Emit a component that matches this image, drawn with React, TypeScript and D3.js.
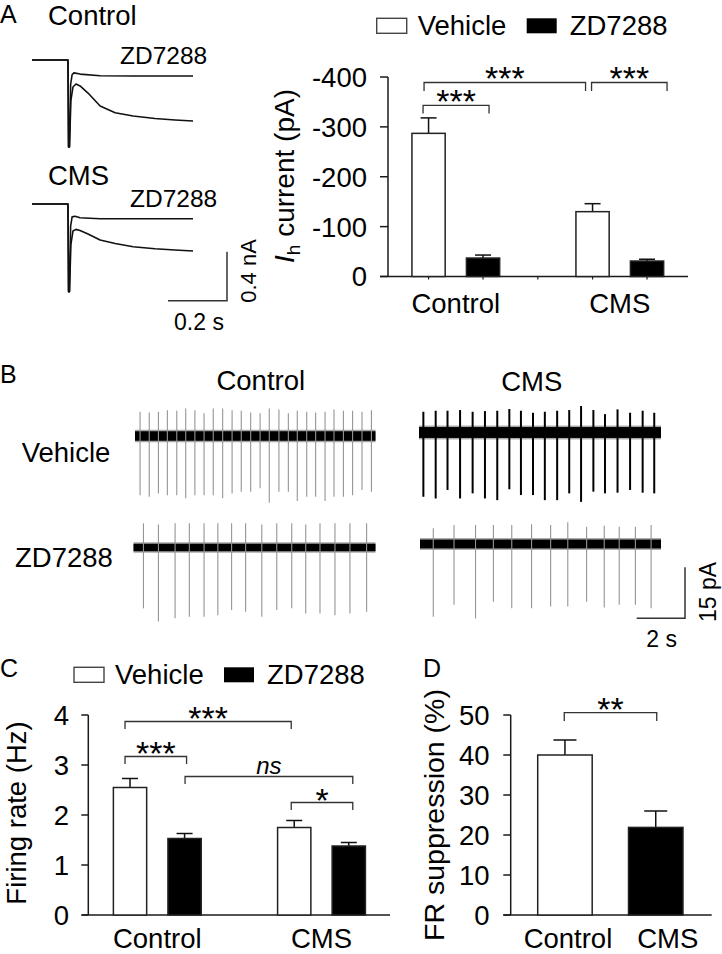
import React from 'react';
import * as d3 from 'd3';

const FONT = '"Liberation Sans", Arial, Helvetica, sans-serif';

// ---------- Panel A: example current traces (time s, current nA) ----------
const traceCtrlVehicle: [number, number][] = [
  [0, 0], [0.122, 0], [0.124, -0.71], [0.127, -0.71], [0.132, -0.33], [0.139, -0.22],
  [0.149, -0.196], [0.163, -0.212], [0.19, -0.27], [0.231, -0.376], [0.282, -0.43],
  [0.343, -0.457], [0.417, -0.478], [0.485, -0.49], [0.546, -0.498],
];
const traceCtrlZD: [number, number][] = [
  [0, 0], [0.122, 0], [0.124, -0.71], [0.127, -0.71], [0.131, -0.2], [0.136, -0.12],
  [0.142, -0.105], [0.163, -0.115], [0.231, -0.128], [0.343, -0.13], [0.546, -0.13],
];
const traceCmsVehicle: [number, number][] = [
  [0, 0], [0.122, 0], [0.124, -0.716], [0.127, -0.716], [0.132, -0.33], [0.139, -0.22],
  [0.149, -0.207], [0.163, -0.216], [0.19, -0.245], [0.231, -0.294], [0.282, -0.322],
  [0.343, -0.349], [0.417, -0.365], [0.485, -0.376], [0.546, -0.384],
];
const traceCmsZD: [number, number][] = [
  [0, 0], [0.122, 0], [0.124, -0.716], [0.127, -0.716], [0.131, -0.18], [0.136, -0.105],
  [0.146, -0.1], [0.163, -0.112], [0.231, -0.12], [0.343, -0.12], [0.546, -0.12],
];

// ---------- Panel A: Ih current bars ----------
const groups = ['Control', 'CMS'];
const seriesNames = ['Vehicle', 'ZD7288'];
const ihVehicle = [-287, -130];
const ihVehicleSem = [31, 16];
const ihZD = [-37, -31];
const ihZDSem = [6, 3.6];
const ihTicks = [0, -100, -200, -300, -400];

// ---------- Panel B: spike trains (time s, amplitude pA) ----------
const ctrlVehSpikeT = [0.21, 0.59, 0.97, 1.34, 1.73, 2.10, 2.48, 2.86, 3.24, 3.63, 4.02, 4.40, 4.79, 5.18, 5.56, 5.96, 6.35, 6.72, 7.11, 7.48, 7.87, 8.24, 8.63, 9.01, 9.40, 9.79];
const ctrlVehSpikeUp = [7.1, 6.9, 7.1, 7.6, 7.4, 8.1, 7.6, 6.7, 8.1, 8.1, 7.6, 7.4, 6.9, 6.7, 8.1, 7.8, 6.7, 7.4, 7.1, 6.9, 7.1, 7.8, 7.4, 7.4, 7.1, 7.6];
const ctrlVehSpikeDown = [17.4, 17.9, 16.9, 17.4, 17.4, 18.3, 17.4, 17.4, 17.4, 18.3, 16.9, 16.4, 16.4, 15.4, 19.6, 16.4, 16.4, 19.1, 17.9, 17.9, 19.1, 17.9, 17.9, 17.4, 15.9, 16.4];

const ctrlZDSpikeT = [0.35, 0.97, 1.66, 2.25, 2.86, 3.43, 4.00, 4.58, 5.25, 5.87, 6.49, 7.07, 7.66, 8.28, 8.90, 9.59];
const ctrlZDSpikeUp = [7.1, 6.8, 7.1, 7.1, 7.1, 7.1, 7.1, 7.1, 6.8, 7.1, 7.1, 6.8, 7.1, 7.1, 7.1, 7.1];
const ctrlZDSpikeDown = [17.9, 21.8, 20.8, 20.4, 20.4, 19.9, 18.4, 18.9, 20.4, 18.4, 17.9, 19.4, 19.4, 19.9, 19.4, 18.9];

const cmsVehSpikeT = [0.16, 0.67, 1.16, 1.68, 2.20, 2.71, 3.22, 3.72, 4.20, 4.70, 5.19, 5.70, 6.20, 6.69, 7.20, 7.68, 8.20, 8.72, 9.24, 9.72];
const cmsVehSpikeUp = [6.1, 6.4, 6.4, 6.6, 6.1, 6.3, 6.4, 6.9, 6.4, 5.8, 6.1, 6.4, 6.6, 7.8, 6.6, 5.4, 6.8, 5.8, 6.4, 5.8];
const cmsVehSpikeDown = [18.9, 19.4, 16.9, 19.4, 17.9, 19.4, 19.9, 16.7, 18.4, 18.4, 19.9, 19.9, 17.9, 20.4, 17.4, 17.9, 17.7, 16.9, 17.7, 17.9];

const cmsZDSpikeT = [0.57, 1.43, 2.32, 3.06, 3.82, 4.64, 5.43, 6.14, 6.92, 7.65, 8.27, 8.94, 9.59];
const cmsZDSpikeUp = [4.6, 5.6, 5.6, 5.6, 5.6, 5.8, 5.6, 6.4, 5.1, 5.4, 5.1, 5.1, 5.6];
const cmsZDSpikeDown = [21.4, 17.9, 21.9, 17.0, 18.9, 18.9, 18.4, 18.4, 17.0, 18.7, 17.9, 17.9, 18.9];

const noiseHalf = [1.4, 1.1, 1.6, 1.3]; // pA: ctrlVeh, ctrlZD, cmsVeh, cmsZD

// ---------- Panel C: firing rate ----------
const frVehicle = [2.55, 1.75];
const frVehicleSem = [0.18, 0.14];
const frZD = [1.53, 1.38];
const frZDSem = [0.10, 0.07];
const frTicks = [0, 1, 2, 3, 4];

// ---------- Panel D: FR suppression ----------
const supCategories = ['Control', 'CMS'];
const supValues = [40.0, 21.9];
const supSem = [3.75, 4.1];
const supTicks = [0, 10, 20, 30, 40, 50];

const AX = '#1a1a1a';
const FS = 27.5;
const BOTTOM_BASE = 948;

function Trace({ data, x, y }: any) {
  const line = d3.line<[number, number]>().x(d => x(d[0])).y(d => y(d[1]));
  return <path d={line(data) || ''} fill="none" stroke="#111" strokeWidth={1.6} strokeLinejoin="round" />;
}

function SpikeRow({ t, up, down, noise, x, y, x0, x1, color, width }: any) {
  return (
    <g>
      <rect x={x0} y={y(noise) - 1.5} width={x1 - x0} height={y(-noise) - y(noise) + 3} fill="#000" opacity={0.35} />
      <rect x={x0} y={y(noise)} width={x1 - x0} height={y(-noise) - y(noise)} fill="#000" />
      {t.map((tt: number, i: number) => (
        <line key={i} x1={x(tt)} x2={x(tt)} y1={y(up[i])} y2={y(-down[i])} stroke={color} strokeWidth={width} />
      ))}
    </g>
  );
}

function Bracket({ xa, xb, yTop, leg, label, italic, fontSize, dyText }: any) {
  return (
    <g>
      <path d={`M${xa},${yTop + leg}V${yTop}H${xb}V${yTop + leg}`} fill="none" stroke="#333" strokeWidth={1.3} />
      <text x={(xa + xb) / 2} y={yTop + dyText} textAnchor="middle" fontSize={fontSize}
        fontStyle={italic ? 'italic' : 'normal'} fontFamily={FONT} fill="#000">{label}</text>
    </g>
  );
}

function YAxis({ scale, ticks, x, tickLen, labelX, fmt }: any) {
  return (
    <g>
      <line x1={x} x2={x} y1={scale(ticks[ticks.length - 1])} y2={scale(ticks[0])} stroke={AX} strokeWidth={1.5} />
      {ticks.map((t: number) => (
        <g key={t}>
          <line x1={x - tickLen} x2={x} y1={scale(t)} y2={scale(t)} stroke={AX} strokeWidth={1.5} />
          <text x={labelX} y={scale(t)} dy="0.36em" textAnchor="end" fontSize={FS} fontFamily={FONT}>{fmt ? fmt(t) : t}</text>
        </g>
      ))}
    </g>
  );
}

function GroupedBars({ gScale, sScale, y, vehicle, vehicleSem, zd, zdSem, cap }: any) {
  const items: any[] = [];
  groups.forEach((g, gi) => {
    seriesNames.forEach((s, si) => {
      const v = si === 0 ? vehicle[gi] : zd[gi];
      const e = si === 0 ? vehicleSem[gi] : zdSem[gi];
      items.push({ g, s, v, e, fill: si === 0 ? '#fff' : '#000' });
    });
  });
  return (
    <g>
      {items.map((d, i) => {
        const bx = gScale(d.g) + sScale(d.s);
        const bw = sScale.bandwidth();
        const cx = bx + bw / 2;
        const top = y(d.v);
        const errEnd = y(d.v + Math.sign(d.v) * d.e);
        return (
          <g key={i}>
            <line x1={cx} x2={cx} y1={top} y2={errEnd} stroke="#111" strokeWidth={1.5} />
            <line x1={cx - cap / 2} x2={cx + cap / 2} y1={errEnd} y2={errEnd} stroke="#111" strokeWidth={1.5} />
            <rect x={bx} y={Math.min(top, y(0))} width={bw} height={Math.abs(y(0) - top)} fill={d.fill} stroke="#222" strokeWidth={1.5} />
          </g>
        );
      })}
    </g>
  );
}

function Legend({ x, y }: any) {
  return (
    <g fontFamily={FONT} fontSize={FS}>
      <rect x={x} y={y} width={30} height={15} fill="#fff" stroke="#444" strokeWidth={1.4} />
      <text x={x + 41} y={y + 17}>Vehicle</text>
      <rect x={x + 150} y={y} width={30} height={15} fill="#000" />
      <text x={x + 193} y={y + 17}>ZD7288</text>
    </g>
  );
}

export default function App() {
  // Panel A traces
  const tx = d3.scaleLinear().domain([0, 0.546]).range([32, 193]);
  const tyCtrl = d3.scaleLinear().domain([0, -0.8]).range([60, 158]);
  const tyCms = d3.scaleLinear().domain([0, -0.8]).range([204, 302]);
  const pxPerNA = tyCtrl(-1) - tyCtrl(0);
  const pxPerS = tx(1) - tx(0);

  // Panel A bars
  const yA = d3.scaleLinear().domain([0, -400]).range([276.5, 77]);
  const gA = d3.scaleBand().domain(groups).range([373.8, 701.8]);
  const sA = d3.scaleBand().domain(seriesNames).range([0, gA.bandwidth()]).paddingInner(0.39).paddingOuter(0.7);
  const barC = (g: string, s: string) => (gA(g) as number) + (sA(s) as number) + sA.bandwidth() / 2;
  const xTicksA = [barC('Control', 'Vehicle'), barC('Control', 'ZD7288'),
    ((gA('Control') as number) + gA.bandwidth()), barC('CMS', 'Vehicle'), barC('CMS', 'ZD7288')];

  // Panel B
  const bxCtrl = d3.scaleLinear().domain([0, 10]).range([135, 376.5]);
  const bxCms = d3.scaleLinear().domain([0, 10]).range([419.5, 661]);
  const rowY = (base: number) => d3.scaleLinear().domain([-20, 10]).range([base + 68, base - 34]);
  const yCV = rowY(436), yCZ = rowY(547.5), yMV = rowY(432.5), yMZ = rowY(544);
  const pxPerPA = yCV(0) - yCV(1);
  const pxPerSB = bxCtrl(1) - bxCtrl(0);

  // Panel C
  const yC = d3.scaleLinear().domain([0, 4]).range([915, 715]);
  const gC = d3.scaleBand().domain(groups).range([75.2, 403.6]);
  const sC = d3.scaleBand().domain(seriesNames).range([0, gC.bandwidth()]).paddingInner(0.39).paddingOuter(0.7);
  const barCC = (g: string, s: string) => (gC(g) as number) + (sC(s) as number) + sC.bandwidth() / 2;

  // Panel D
  const yD = d3.scaleLinear().domain([0, 50]).range([915, 715]);
  const xD = d3.scaleBand().domain(supCategories).range([501.4, 719.3]).padding(0.4);

  return (
    <svg width={722} height={954} style={{ position: 'absolute', left: 0, top: 0, background: '#fff' }}
      fontFamily={FONT}>
      <rect x={0} y={0} width={722} height={954} fill="#fff" />

      {/* ===== Panel A ===== */}
      <text x={0} y={23} fontSize={25}>A</text>
      <text x={48} y={25} fontSize={FS}>Control</text>
      <text x={120} y={64} fontSize={24.5}>ZD7288</text>
      <Trace data={traceCtrlVehicle} x={tx} y={tyCtrl} />
      <Trace data={traceCtrlZD} x={tx} y={tyCtrl} />
      <text x={48} y={185} fontSize={FS}>CMS</text>
      <text x={130} y={207} fontSize={24.5}>ZD7288</text>
      <Trace data={traceCmsVehicle} x={tx} y={tyCms} />
      <Trace data={traceCmsZD} x={tx} y={tyCms} />
      {/* scale bar */}
      <path d={`M${227 - 0.2 * pxPerS},300.7H227V${300.7 - 0.4 * pxPerNA}`} fill="none" stroke="#333" strokeWidth={1.5} />
      <text transform="translate(256,271) rotate(-90)" textAnchor="middle" fontSize={22}>0.4 nA</text>
      <text x={199} y={330} textAnchor="middle" fontSize={23}>0.2 s</text>

      <Legend x={376.7} y={18.3} />
      <YAxis scale={yA} ticks={ihTicks} x={388} tickLen={8} labelX={367} />
      <line x1={380} x2={688} y1={yA(0)} y2={yA(0)} stroke={AX} strokeWidth={1.5} />
      {xTicksA.map((t, i) => (
        <line key={i} x1={t} x2={t} y1={yA(0)} y2={yA(0) + 3} stroke={AX} strokeWidth={1.2} />
      ))}
      <GroupedBars gScale={gA} sScale={sA} y={yA} vehicle={ihVehicle} vehicleSem={ihVehicleSem} zd={ihZD} zdSem={ihZDSem} cap={16} />
      <text transform="translate(294,176) rotate(-90)" textAnchor="middle" fontSize={28}>
        <tspan fontStyle="italic">I</tspan><tspan fontSize={19} dy={6}>h</tspan><tspan dy={-6}> current (pA)</tspan>
      </text>
      {groups.map(g => (
        <text key={g} x={(gA(g) as number) + gA.bandwidth() / 2} y={313} textAnchor="middle" fontSize={FS}>{g}</text>
      ))}
      <Bracket xa={barC('Control', 'Vehicle') - 4.5} xb={barC('CMS', 'Vehicle') - 7} yTop={yA(-389)} leg={8.4} label="***" fontSize={34} dyText={8} />
      <Bracket xa={barC('Control', 'Vehicle') - 5.5} xb={barC('Control', 'ZD7288') + 6} yTop={yA(-343)} leg={8} label="***" fontSize={34} dyText={8} />
      <Bracket xa={barC('CMS', 'Vehicle') - 1} xb={barC('CMS', 'ZD7288') + 20} yTop={yA(-389)} leg={8.4} label="***" fontSize={34} dyText={8} />

      {/* ===== Panel B ===== */}
      <text x={0} y={383} fontSize={25}>B</text>
      <text x={260.8} y={390} textAnchor="middle" fontSize={FS}>Control</text>
      <text x={531.7} y={391} textAnchor="middle" fontSize={FS}>CMS</text>
      <text x={21.7} y={461.7} fontSize={FS}>Vehicle</text>
      <text x={15} y={566.7} fontSize={FS}>ZD7288</text>
      <SpikeRow t={ctrlVehSpikeT} up={ctrlVehSpikeUp} down={ctrlVehSpikeDown} noise={noiseHalf[0]} x={bxCtrl} y={yCV} x0={135} x1={375.5} color="#959595" width={1.1} />
      <SpikeRow t={ctrlZDSpikeT} up={ctrlZDSpikeUp} down={ctrlZDSpikeDown} noise={noiseHalf[1]} x={bxCtrl} y={yCZ} x0={133.5} x1={375.5} color="#959595" width={1.1} />
      <SpikeRow t={cmsVehSpikeT} up={cmsVehSpikeUp} down={cmsVehSpikeDown} noise={noiseHalf[2]} x={bxCms} y={yMV} x0={419} x1={661} color="#000" width={2} />
      <SpikeRow t={cmsZDSpikeT} up={cmsZDSpikeUp} down={cmsZDSpikeDown} noise={noiseHalf[3]} x={bxCms} y={yMZ} x0={420} x1={661} color="#959595" width={1.1} />
      <path d={`M${685 - 2 * pxPerSB},618.3H685V${618.3 - 15 * pxPerPA}`} fill="none" stroke="#333" strokeWidth={1.5} />
      <text transform="translate(716,592) rotate(-90)" textAnchor="middle" fontSize={23}>15 pA</text>
      <text x={661.7} y={646.7} textAnchor="middle" fontSize={23}>2 s</text>

      {/* ===== Panel C ===== */}
      <text x={0} y={677} fontSize={25}>C</text>
      <Legend x={74} y={667.3} />
      <YAxis scale={yC} ticks={frTicks} x={88.3} tickLen={7} labelX={69} />
      <line x1={81.7} x2={390} y1={yC(0)} y2={yC(0)} stroke={AX} strokeWidth={1.5} />
      <GroupedBars gScale={gC} sScale={sC} y={yC} vehicle={frVehicle} vehicleSem={frVehicleSem} zd={frZD} zdSem={frZDSem} cap={16} />
      <text transform="translate(26,813) rotate(-90)" textAnchor="middle" fontSize={27.5}>Firing rate (Hz)</text>
      {groups.map(g => (
        <text key={g} x={(gC(g) as number) + gC.bandwidth() / 2} y={BOTTOM_BASE} textAnchor="middle" fontSize={FS}>{g}</text>
      ))}
      <Bracket xa={barCC('Control', 'Vehicle') - 5} xb={barCC('CMS', 'Vehicle') - 3} yTop={yC(3.87)} leg={7.6} label="***" fontSize={34} dyText={8} />
      <Bracket xa={barCC('Control', 'Vehicle') - 5} xb={barCC('Control', 'ZD7288') + 2} yTop={yC(3.17)} leg={7.6} label="***" fontSize={34} dyText={8} />
      <Bracket xa={barCC('Control', 'ZD7288') + 0.5} xb={barCC('CMS', 'ZD7288') + 4} yTop={yC(2.77)} leg={7.4} label="ns" italic fontSize={24} dyText={-2.7} />
      <Bracket xa={barCC('CMS', 'Vehicle') - 3} xb={barCC('CMS', 'ZD7288') + 4} yTop={yC(2.25)} leg={7.6} label="*" fontSize={34} dyText={9} />

      {/* ===== Panel D ===== */}
      <text x={423} y={677} fontSize={25}>D</text>
      <YAxis scale={yD} ticks={supTicks} x={510.7} tickLen={7.4} labelX={489.5} />
      <line x1={503.3} x2={711.7} y1={yD(0)} y2={yD(0)} stroke={AX} strokeWidth={1.5} />
      {supCategories.map((c, i) => {
        const bx = xD(c) as number;
        const bw = xD.bandwidth();
        const cx = bx + bw / 2;
        const top = yD(supValues[i]);
        const errEnd = yD(supValues[i] + supSem[i]);
        return (
          <g key={c}>
            <line x1={cx} x2={cx} y1={top} y2={errEnd} stroke="#111" strokeWidth={1.5} />
            <line x1={cx - 11.5} x2={cx + 11.5} y1={errEnd} y2={errEnd} stroke="#111" strokeWidth={1.5} />
            <rect x={bx} y={top} width={bw} height={yD(0) - top} fill={i === 0 ? '#fff' : '#000'} stroke="#222" strokeWidth={1.5} />
            <text x={cx + (i === 0 ? 3 : 12)} y={BOTTOM_BASE} textAnchor="middle" fontSize={FS}>{c}</text>
          </g>
        );
      })}
      <text transform="translate(444,815) rotate(-90)" textAnchor="middle" fontSize={28.5}>FR suppression (%)</text>
      <Bracket xa={(xD('Control') as number) + xD.bandwidth() / 2 - 0.7} xb={(xD('CMS') as number) + xD.bandwidth() / 2 + 1} yTop={yD(50.6)} leg={8.3} label="**" fontSize={34} dyText={8.5} />
    </svg>
  );
}
